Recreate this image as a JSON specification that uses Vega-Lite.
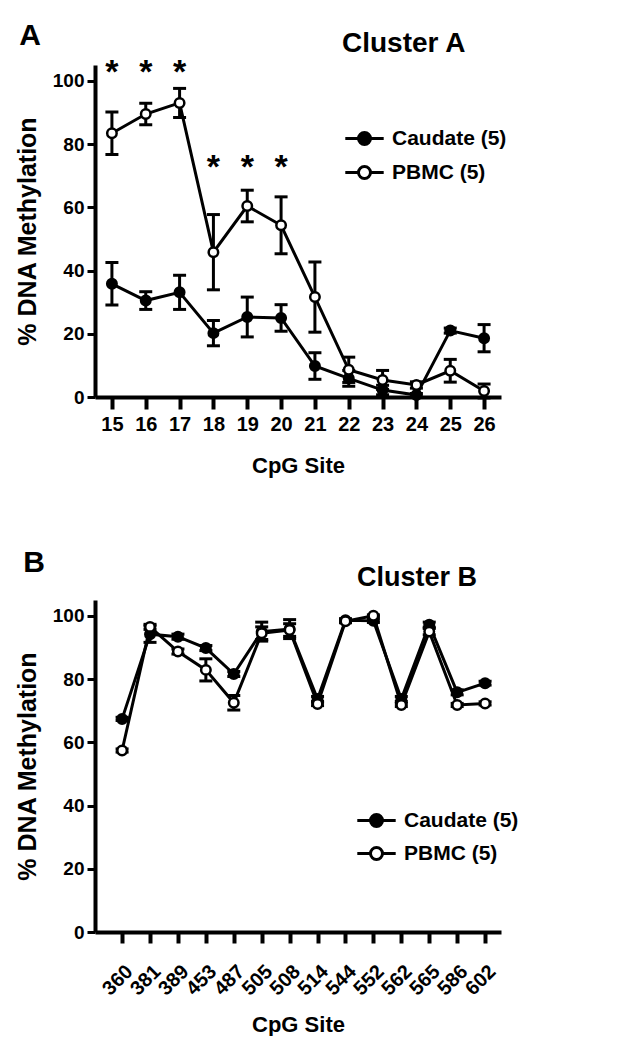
{
  "$schema": "https://vega.github.io/schema/vega-lite/v6.json",
  "padding": {"left": 15, "top": 20, "right": 0, "bottom": 0},
  "background": "white",
  "config": {
    "font": "Liberation Sans",
    "view": {"stroke": null},
    "axis": {
      "grid": false,
      "domainColor": "black",
      "domainWidth": 4,
      "tickColor": "black",
      "labelColor": "black",
      "titleColor": "black",
      "labelFont": "Liberation Sans",
      "titleFont": "Liberation Sans",
      "labelFontSize": 19,
      "labelFontWeight": "bold",
      "titleFontWeight": "bold"
    },
    "title": {"font": "Liberation Sans", "fontWeight": "bold", "color": "black"}
  },
  "datasets": {
    "a": [
      {"site": 15, "group": "Caudate (5)", "pct": 35.8, "sem": 6.7},
      {"site": 16, "group": "Caudate (5)", "pct": 30.5, "sem": 2.8},
      {"site": 17, "group": "Caudate (5)", "pct": 33.1, "sem": 5.4},
      {"site": 18, "group": "Caudate (5)", "pct": 20.2, "sem": 4.0},
      {"site": 19, "group": "Caudate (5)", "pct": 25.3, "sem": 6.3},
      {"site": 20, "group": "Caudate (5)", "pct": 25.0, "sem": 4.2},
      {"site": 21, "group": "Caudate (5)", "pct": 9.8, "sem": 4.2},
      {"site": 22, "group": "Caudate (5)", "pct": 5.9, "sem": 2.5},
      {"site": 23, "group": "Caudate (5)", "pct": 2.2, "sem": 1.5},
      {"site": 24, "group": "Caudate (5)", "pct": 0.6, "sem": 0.5},
      {"site": 25, "group": "Caudate (5)", "pct": 21.0, "sem": 0.8},
      {"site": 26, "group": "Caudate (5)", "pct": 18.6, "sem": 4.3},
      {"site": 15, "group": "PBMC (5)", "pct": 83.4, "sem": 6.7},
      {"site": 16, "group": "PBMC (5)", "pct": 89.5, "sem": 3.4},
      {"site": 17, "group": "PBMC (5)", "pct": 93.0, "sem": 4.6},
      {"site": 18, "group": "PBMC (5)", "pct": 45.8, "sem": 11.9},
      {"site": 19, "group": "PBMC (5)", "pct": 60.4, "sem": 5.0},
      {"site": 20, "group": "PBMC (5)", "pct": 54.3, "sem": 9.0},
      {"site": 21, "group": "PBMC (5)", "pct": 31.6, "sem": 11.1},
      {"site": 22, "group": "PBMC (5)", "pct": 8.6, "sem": 4.0},
      {"site": 23, "group": "PBMC (5)", "pct": 5.4, "sem": 3.0},
      {"site": 24, "group": "PBMC (5)", "pct": 3.8, "sem": 1.0},
      {"site": 25, "group": "PBMC (5)", "pct": 8.3, "sem": 3.6},
      {"site": 26, "group": "PBMC (5)", "pct": 1.9, "sem": 2.2}
    ],
    "starsA": [
      {"site": 15, "pct": 102.5},
      {"site": 16, "pct": 102.5},
      {"site": 17, "pct": 102.5},
      {"site": 18, "pct": 72.5},
      {"site": 19, "pct": 72.5},
      {"site": 20, "pct": 72.5}
    ],
    "b": [
      {"site": 360, "group": "Caudate (5)", "pct": 67.4, "sem": 0.5},
      {"site": 381, "group": "Caudate (5)", "pct": 94.2, "sem": 2.6},
      {"site": 389, "group": "Caudate (5)", "pct": 93.4, "sem": 0.8},
      {"site": 453, "group": "Caudate (5)", "pct": 89.8, "sem": 0.8},
      {"site": 487, "group": "Caudate (5)", "pct": 81.6, "sem": 0.8},
      {"site": 505, "group": "Caudate (5)", "pct": 95.0, "sem": 3.0},
      {"site": 508, "group": "Caudate (5)", "pct": 95.8, "sem": 3.0},
      {"site": 514, "group": "Caudate (5)", "pct": 73.7, "sem": 0.8},
      {"site": 544, "group": "Caudate (5)", "pct": 98.6, "sem": 0.5},
      {"site": 552, "group": "Caudate (5)", "pct": 98.4, "sem": 0.5},
      {"site": 562, "group": "Caudate (5)", "pct": 73.7, "sem": 0.8},
      {"site": 565, "group": "Caudate (5)", "pct": 97.2, "sem": 0.8},
      {"site": 586, "group": "Caudate (5)", "pct": 75.8, "sem": 0.8},
      {"site": 602, "group": "Caudate (5)", "pct": 78.7, "sem": 0.6},
      {"site": 360, "group": "PBMC (5)", "pct": 57.4, "sem": 0.5},
      {"site": 381, "group": "PBMC (5)", "pct": 96.5, "sem": 0.8},
      {"site": 389, "group": "PBMC (5)", "pct": 88.7, "sem": 0.8},
      {"site": 453, "group": "PBMC (5)", "pct": 82.9, "sem": 3.5},
      {"site": 487, "group": "PBMC (5)", "pct": 72.5, "sem": 2.3},
      {"site": 505, "group": "PBMC (5)", "pct": 94.5, "sem": 2.0},
      {"site": 508, "group": "PBMC (5)", "pct": 95.5, "sem": 2.0},
      {"site": 514, "group": "PBMC (5)", "pct": 72.1, "sem": 0.5},
      {"site": 544, "group": "PBMC (5)", "pct": 98.3, "sem": 0.5},
      {"site": 552, "group": "PBMC (5)", "pct": 100.0, "sem": 0.3},
      {"site": 562, "group": "PBMC (5)", "pct": 71.8, "sem": 0.5},
      {"site": 565, "group": "PBMC (5)", "pct": 95.0, "sem": 1.0},
      {"site": 586, "group": "PBMC (5)", "pct": 71.8, "sem": 0.5},
      {"site": 602, "group": "PBMC (5)", "pct": 72.3, "sem": 0.5}
    ]
  },
  "spacing": 72,
  "vconcat": [
    {
      "title": {"text": "A", "anchor": "start", "fontSize": 30, "offset": -21, "dx": 4},
      "vconcat": [
        {
          "width": 406,
          "height": 332,
          "title": {"text": "Cluster A", "anchor": "start", "frame": "group", "dx": 247, "fontSize": 28, "offset": -2},
          "data": {"name": "a"},
          "encoding": {
            "x": {
              "field": "site", "type": "ordinal",
              "scale": {"type": "point", "padding": 0.5},
              "axis": {"labelAngle": 0, "labelFontSize": 20, "tickSize": 12, "tickWidth": 4, "labelPadding": 5, "title": "CpG Site", "titleFontSize": 22, "titlePadding": 21}
            },
            "y": {
              "field": "pct", "type": "quantitative",
              "scale": {"domain": [0, 105], "nice": false},
              "axis": {"values": [0, 20, 40, 60, 80, 100], "tickSize": 8, "tickWidth": 3, "labelPadding": 3, "title": "% DNA Methylation", "titleFontSize": 25, "titlePadding": 12}
            }
          },
          "layer": [
            {
              "mark": {"type": "line", "color": "black", "strokeWidth": 3},
              "encoding": {"detail": {"field": "group"}}
            },
            {
              "mark": {"type": "errorbar", "ticks": {"color": "black", "opacity": 1}, "rule": {"color": "black", "opacity": 1}, "thickness": 3, "size": 13, "color": "black", "opacity": 1},
              "encoding": {"yError": {"field": "sem"}}
            },
            {
              "mark": {"type": "point", "filled": true, "size": 90, "stroke": "black", "strokeWidth": 2.5, "opacity": 1, "shape": "circle"},
              "encoding": {
                "fill": {
                  "field": "group", "type": "nominal",
                  "scale": {"domain": ["Caudate (5)", "PBMC (5)"], "range": ["black", "white"]},
                  "legend": {
                    "orient": "none", "legendX": 256, "legendY": 60, "title": null, "padding": 0,
                    "symbolType": "M-1.6,0L-0.5,0M0.5,0L1.6,0M0.5,0A0.5,0.5,0,1,1,-0.5,0A0.5,0.5,0,1,1,0.5,0Z",
                    "symbolSize": 576, "symbolStrokeColor": "black", "symbolStrokeWidth": 3, "symbolOpacity": 1,
                    "labelFont": "Liberation Sans", "labelFontSize": 21, "labelFontWeight": "bold", "labelColor": "black",
                    "labelOffset": 14, "rowPadding": 8
                  }
                }
              }
            },
            {
              "data": {"name": "starsA"},
              "mark": {"type": "text", "text": "*", "fontSize": 34, "fontWeight": "bold", "baseline": "middle", "color": "black"}
            }
          ]
        }
      ]
    },
    {
      "title": {"text": "B", "anchor": "start", "fontSize": 30, "offset": -14, "dx": 8},
      "vconcat": [
        {
          "width": 406,
          "height": 332,
          "title": {"text": "Cluster B", "anchor": "start", "frame": "group", "dx": 262, "fontSize": 27, "offset": 8},
          "data": {"name": "b"},
          "encoding": {
            "x": {
              "field": "site", "type": "ordinal",
              "scale": {"type": "point", "padding": 0.77, "align": 0.63},
              "axis": {"labelAngle": -45, "labelFontSize": 20, "tickSize": 11, "tickWidth": 4, "labelPadding": 18, "title": "CpG Site", "titleFontSize": 22, "titlePadding": 16}
            },
            "y": {
              "field": "pct", "type": "quantitative",
              "scale": {"domain": [0, 105], "nice": false},
              "axis": {"values": [0, 20, 40, 60, 80, 100], "tickSize": 8, "tickWidth": 3, "labelPadding": 3, "title": "% DNA Methylation", "titleFontSize": 25, "titlePadding": 12}
            }
          },
          "layer": [
            {
              "mark": {"type": "line", "color": "black", "strokeWidth": 3},
              "encoding": {"detail": {"field": "group"}}
            },
            {
              "mark": {"type": "errorbar", "ticks": {"color": "black", "opacity": 1}, "rule": {"color": "black", "opacity": 1}, "thickness": 3, "size": 13, "color": "black", "opacity": 1},
              "encoding": {"yError": {"field": "sem"}}
            },
            {
              "mark": {"type": "point", "filled": true, "size": 90, "stroke": "black", "strokeWidth": 2.5, "opacity": 1, "shape": "circle"},
              "encoding": {
                "fill": {
                  "field": "group", "type": "nominal",
                  "scale": {"domain": ["Caudate (5)", "PBMC (5)"], "range": ["black", "white"]},
                  "legend": {
                    "orient": "none", "legendX": 268, "legendY": 207, "title": null, "padding": 0,
                    "symbolType": "M-1.6,0L-0.5,0M0.5,0L1.6,0M0.5,0A0.5,0.5,0,1,1,-0.5,0A0.5,0.5,0,1,1,0.5,0Z",
                    "symbolSize": 576, "symbolStrokeColor": "black", "symbolStrokeWidth": 3, "symbolOpacity": 1,
                    "labelFont": "Liberation Sans", "labelFontSize": 21, "labelFontWeight": "bold", "labelColor": "black",
                    "labelOffset": 14, "rowPadding": 7
                  }
                }
              }
            }
          ]
        }
      ]
    }
  ],
  "resolve": {"scale": {"fill": "independent"}, "legend": {"fill": "independent"}}
}
